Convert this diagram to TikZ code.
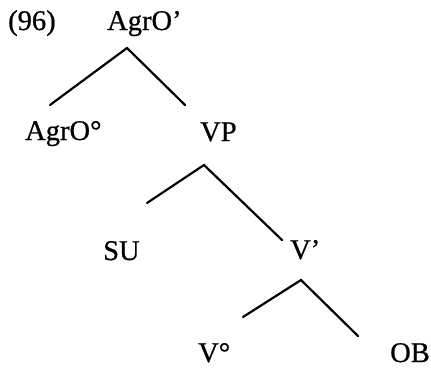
\documentclass[tikz,border=0pt]{standalone}
\usepackage{fontspec}
\setmainfont{Liberation Serif}[BoldFont={Liberation Serif},BoldFeatures={FakeBold=0.7}]
\begin{document}
\begin{tikzpicture}[x=1pt,y=-1pt,
  lbl/.style={anchor=base west,inner sep=0pt,font=\fontsize{28.5}{34}\selectfont\bfseries},
  branch/.style={line width=2.2pt,line cap=round,line join=miter}]
\useasboundingbox (0,0) rectangle (431,367);
\node[lbl] (ex) at (8,30) {(96)};
\node[lbl] (agrobar) at (107,30) {AgrO’};
\node[lbl] (agrohead) at (25,140) {AgrO°};
\node[lbl] (vp) at (200,141) {VP};
\node[lbl] (su) at (103,260) {SU};
\node[lbl] (vbar) at (290,259) {V’};
\node[lbl] (vhead) at (198,362) {V°};
\node[lbl] (ob) at (390,362) {OB};
\coordinate (a1) at (127,48);
\coordinate (l1) at (50,105);
\coordinate (r1) at (185,105);
\coordinate (a2) at (204,165);
\coordinate (l2) at (147,203);
\coordinate (r2) at (282,240);
\coordinate (a3) at (301,280);
\coordinate (l3) at (243,317);
\coordinate (r3) at (358,336);
\draw[branch] (l1) -- (a1) -- (r1);
\draw[branch] (l2) -- (a2) -- (r2);
\draw[branch] (l3) -- (a3) -- (r3);
\end{tikzpicture}
\end{document}
